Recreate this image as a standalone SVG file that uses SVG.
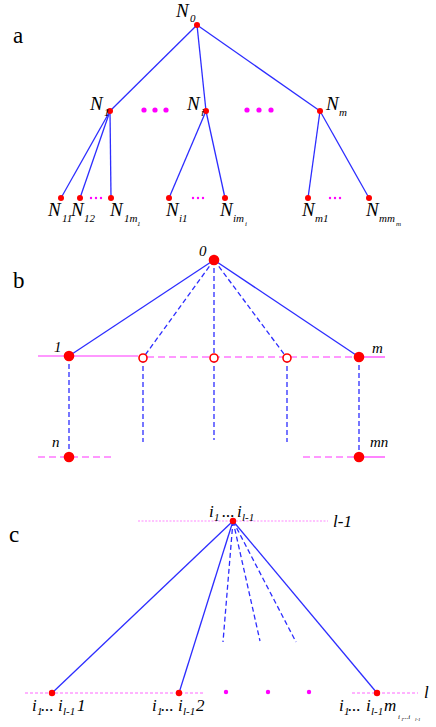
<svg xmlns="http://www.w3.org/2000/svg" width="436" height="727" viewBox="0 0 436 727">
<style>
.e{stroke:#2d2dff;stroke-width:1.3;fill:none}
.d{stroke:#2d2dff;stroke-width:1.3;fill:none;stroke-dasharray:5 3}
.n{fill:#ff0000}
.h{fill:#fff;stroke:#ff0000;stroke-width:1.6}
.dot{fill:#ff00ff}
.p{stroke:#ff33ff;stroke-width:1.2;fill:none}
.pd{stroke:#ff33ff;stroke-width:1.2;fill:none;stroke-dasharray:7 4}
.pt{stroke:#ff88ff;stroke-width:1.2;fill:none;stroke-dasharray:2 1.5}
.pt2{stroke:#ff66ff;stroke-width:1;fill:none;stroke-dasharray:3 2}
text{font-family:"Liberation Serif","Times New Roman","DejaVu Serif",serif;fill:#000}
.cap{font-size:23px}
.L{font-style:italic;font-size:19px}
.s{font-size:11px}
.ss{font-size:7px}
.B{font-style:italic;font-size:15px}
.C{font-style:italic;font-size:17px}
</style>
<text class="cap" x="13" y="43">a</text>
<text class="cap" x="13" y="288">b</text>
<text class="cap" x="9" y="542">c</text>
<g id="connectors">
<line class="e" x1="197" y1="25" x2="110" y2="111"/>
<line class="e" x1="197" y1="25" x2="206" y2="111"/>
<line class="e" x1="197" y1="25" x2="320" y2="111"/>
<line class="e" x1="110" y1="111" x2="61" y2="198"/>
<line class="e" x1="110" y1="111" x2="80" y2="198"/>
<line class="e" x1="110" y1="111" x2="111" y2="198"/>
<line class="e" x1="206" y1="111" x2="169" y2="198"/>
<line class="e" x1="206" y1="111" x2="225" y2="198"/>
<line class="e" x1="320" y1="111" x2="308" y2="198"/>
<line class="e" x1="320" y1="111" x2="369" y2="198"/>
<line class="p" x1="38" y1="356" x2="138" y2="356"/>
<line class="pd" x1="147" y1="357" x2="356" y2="357"/>
<line class="p" x1="362" y1="357" x2="385" y2="357"/>
<line class="pd" x1="38" y1="457" x2="115" y2="457"/>
<line class="pd" x1="303" y1="457" x2="354" y2="457"/>
<line class="p" x1="362" y1="457" x2="385" y2="457"/>
<line class="e" x1="214" y1="260" x2="69" y2="356"/>
<line class="e" x1="214" y1="260" x2="359" y2="357"/>
<line class="d" x1="214" y1="260" x2="143" y2="358"/>
<line class="d" x1="214" y1="260" x2="214" y2="358"/>
<line class="d" x1="214" y1="260" x2="287" y2="358"/>
<line class="d" x1="69" y1="356" x2="69" y2="457"/>
<line class="d" x1="143" y1="358" x2="143" y2="442"/>
<line class="d" x1="214" y1="358" x2="214" y2="440"/>
<line class="d" x1="287" y1="358" x2="287" y2="442"/>
<line class="d" x1="359" y1="357" x2="359" y2="457"/>
<line class="pt" x1="138" y1="521" x2="328" y2="521"/>
<line class="pt2" x1="25" y1="693" x2="203" y2="693"/>
<line class="pt2" x1="352" y1="693" x2="418" y2="693"/>
<line class="e" x1="233" y1="521" x2="52" y2="693"/>
<line class="e" x1="233" y1="521" x2="179" y2="693"/>
<line class="e" x1="233" y1="521" x2="377" y2="693"/>
<line class="d" x1="233" y1="521" x2="223" y2="642"/>
<line class="d" x1="233" y1="521" x2="260" y2="641"/>
<line class="d" x1="233" y1="521" x2="296" y2="642"/>
</g>
<g id="dots">
<circle class="dot" cx="144" cy="110" r="2.6"/><circle class="dot" cx="155" cy="110" r="2.6"/><circle class="dot" cx="166" cy="110" r="2.6"/>
<circle class="dot" cx="247" cy="110" r="2.6"/><circle class="dot" cx="259" cy="110" r="2.6"/><circle class="dot" cx="271" cy="110" r="2.6"/>
<circle class="dot" cx="91" cy="198" r="1.2"/><circle class="dot" cx="96" cy="198" r="1.2"/><circle class="dot" cx="101" cy="198" r="1.2"/>
<circle class="dot" cx="193" cy="198" r="1.2"/><circle class="dot" cx="198" cy="198" r="1.2"/><circle class="dot" cx="203" cy="198" r="1.2"/>
<circle class="dot" cx="330" cy="198" r="1.2"/><circle class="dot" cx="335" cy="198" r="1.2"/><circle class="dot" cx="340" cy="198" r="1.2"/>
<circle class="dot" cx="226" cy="692" r="2.2"/><circle class="dot" cx="268" cy="692" r="2.2"/><circle class="dot" cx="309" cy="692" r="2.2"/>
</g>
<g id="N0"><circle class="n" cx="197" cy="25" r="3"/><text class="L" x="176" y="17">N<tspan class="s" x="190" y="22">0</tspan></text></g>
<g id="N1"><circle class="n" cx="110" cy="111" r="3"/><text class="L" x="90" y="110">N<tspan class="s" x="104" y="116">1</tspan></text></g>
<g id="Ni"><circle class="n" cx="206" cy="111" r="3"/><text class="L" x="187" y="110">N<tspan class="s" x="201" y="116">i</tspan></text></g>
<g id="Nm"><circle class="n" cx="320" cy="111" r="3"/><text class="L" x="326" y="110">N<tspan class="s" x="339" y="116">m</tspan></text></g>
<g id="N11"><circle class="n" cx="61" cy="198" r="3"/><text class="L" x="48" y="216">N<tspan class="s" x="62" y="222">11</tspan></text></g>
<g id="N12"><circle class="n" cx="80" cy="198" r="3"/><text class="L" x="71" y="216">N<tspan class="s" x="84" y="222">12</tspan></text></g>
<g id="N1m1"><circle class="n" cx="111" cy="198" r="3"/><text class="L" x="110" y="216">N<tspan class="s" x="124" y="222">1m</tspan><tspan class="ss" x="137" y="226">1</tspan></text></g>
<g id="Ni1"><circle class="n" cx="169" cy="198" r="3"/><text class="L" x="166" y="216">N<tspan class="s" x="179" y="222">i1</tspan></text></g>
<g id="Nimi"><circle class="n" cx="225" cy="198" r="3"/><text class="L" x="220" y="216">N<tspan class="s" x="233" y="222">im</tspan><tspan class="ss" x="245" y="226">i</tspan></text></g>
<g id="Nm1"><circle class="n" cx="308" cy="198" r="3"/><text class="L" x="302" y="216">N<tspan class="s" x="315" y="222">m1</tspan></text></g>
<g id="Nmmm"><circle class="n" cx="369" cy="198" r="3"/><text class="L" x="366" y="216">N<tspan class="s" x="379" y="222">mm</tspan><tspan class="ss" x="396" y="226">m</tspan></text></g>
<g id="b0"><circle class="n" cx="214" cy="260" r="5.3"/><text class="B" x="199" y="256">0</text></g>
<g id="b1"><circle class="n" cx="69" cy="356" r="5.3"/><text class="B" x="54" y="352">1</text></g>
<g id="bh1"><circle class="h" cx="143" cy="358" r="4"/></g>
<g id="bh2"><circle class="h" cx="214" cy="358" r="4"/></g>
<g id="bh3"><circle class="h" cx="287" cy="358" r="4"/></g>
<g id="bm"><circle class="n" cx="359" cy="357" r="5.3"/><text class="B" x="372" y="353">m</text></g>
<g id="bn"><circle class="n" cx="69" cy="457" r="5.3"/><text class="B" x="52" y="447">n</text></g>
<g id="bmn"><circle class="n" cx="359" cy="457" r="5.3"/><text class="B" x="370" y="447">mn</text></g>
<g id="ctop"><circle class="n" cx="233" cy="521" r="3.2"/><text class="C" x="209" y="517">i<tspan class="s" x="214" y="521">1</tspan><tspan x="222" y="517">...</tspan><tspan x="237" y="517">i</tspan><tspan class="s" x="242" y="521">l-1</tspan></text><text class="C" x="333" y="527" font-size="15">l-1</text></g>
<g id="c1"><circle class="n" cx="52" cy="693" r="3.2"/><text class="C" x="32" y="711">i<tspan class="s" x="37" y="715">1</tspan><tspan x="41" y="711">...</tspan><tspan x="58" y="711">i</tspan><tspan class="s" x="63" y="715">l-1</tspan><tspan x="77" y="711">1</tspan></text></g>
<g id="c2"><circle class="n" cx="179" cy="693" r="3.2"/><text class="C" x="152" y="711">i<tspan class="s" x="157" y="715">1</tspan><tspan x="161" y="711">...</tspan><tspan x="178" y="711">i</tspan><tspan class="s" x="183" y="715">l-1</tspan><tspan x="196" y="711">2</tspan></text></g>
<g id="c3"><circle class="n" cx="377" cy="693" r="3.2"/><text class="C" x="339" y="711">i<tspan class="s" x="344" y="715">1</tspan><tspan x="348" y="711">...</tspan><tspan x="366" y="711">i</tspan><tspan class="s" x="371" y="715">l-1</tspan><tspan x="384" y="711">m</tspan><tspan class="ss" x="398" y="719">i</tspan><tspan font-size="5" x="401" y="721">1</tspan><tspan class="ss" x="403" y="719">...i</tspan><tspan font-size="5" x="415" y="721">l-1</tspan></text><text class="C" x="424" y="698" font-size="15">l</text></g>
</svg>
